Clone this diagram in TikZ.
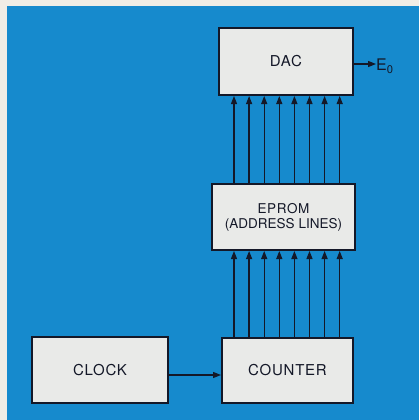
\documentclass[tikz,border=0pt]{standalone}
\usepackage{fontspec}
\setmainfont{TeX Gyre Heros}
\newfontfamily\spaced[LetterSpace=5]{TeX Gyre Heros}
\usetikzlibrary{arrows.meta}
\definecolor{bgblue}{RGB}{22,138,205}
\definecolor{paper}{RGB}{240,237,230}
\definecolor{boxfill}{RGB}{233,234,232}
\definecolor{ink}{RGB}{20,24,40}
\tikzset{
  block/.style={draw=ink, line width=2pt, fill=boxfill, inner sep=0pt, align=center, text=ink},
  wire/.style={draw=ink, line width=1.3pt, -{Triangle[length=8pt,width=6pt]}},
  lbl/.style={font=\spaced\fontsize{15}{17}\selectfont},
}
\begin{document}
\begin{tikzpicture}[x=1pt,y=-1pt]
\fill[paper] (0,0) rectangle (419,420);
\fill[bgblue] (7,6) rectangle (419,420);
\useasboundingbox (0,0) rectangle (419,420);
\node[block, minimum width=134pt, minimum height=67pt, lbl] (dac) at (286,61.5) {DAC};
\node[block, minimum width=143pt, minimum height=66pt, font=\fontsize{13.5}{15}\selectfont] (eprom) at (283.5,217) {{\spaced EPROM}\\(ADDRESS LINES)};
\node[block, minimum width=131pt, minimum height=65pt, lbl] (counter) at (287.5,370.5) {COUNTER};
\node[block, minimum width=136pt, minimum height=66pt, lbl] (clock) at (100,370) {CLOCK};
\coordinate (ey) at (0,375);
\draw[wire] (clock.east |- ey) -- (counter.west |- ey);
\foreach \i in {0,...,7}{
  \coordinate (c\i) at ({234+15.1*\i},0);
  \draw[wire] (counter.north -| c\i) -- (eprom.south -| c\i);
  \draw[wire] (eprom.north -| c\i) -- (dac.south -| c\i);
}
\coordinate (oy) at (0,64);
\node[text=ink, inner sep=0pt, font=\fontsize{16}{18}\selectfont, anchor=west] (e0) at (376,66) {E\textsubscript{0}};
\draw[wire, line width=1.2pt] (dac.east |- oy) -- (e0.west |- oy);
\end{tikzpicture}
\end{document}
